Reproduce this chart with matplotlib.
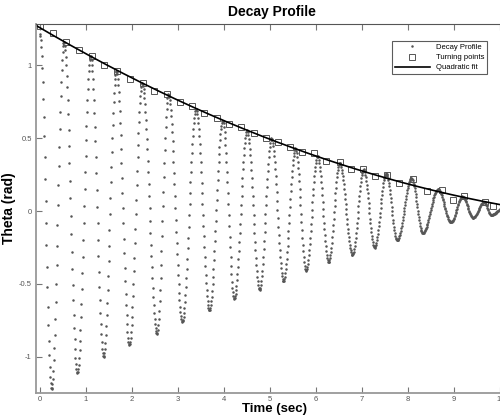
import numpy as np
import matplotlib
matplotlib.use("Agg")
import matplotlib.pyplot as plt

peak_t = [0.0, 0.52, 1.10, 1.66, 2.22, 2.79, 3.39, 3.97, 4.50, 5.03, 5.55,
          6.03, 6.51, 7.03, 7.52, 8.07, 8.65, 9.18, 9.65]
peak_v = [1.21, 1.16, 1.06, 0.96, 0.875, 0.80, 0.70, 0.62, 0.555, 0.50, 0.43,
          0.38, 0.33, 0.286, 0.258, 0.224, 0.149, 0.100, 0.062]
trough_t = [0.25, 0.81, 1.38, 1.94, 2.54, 3.09, 3.68, 4.22, 4.77, 5.29, 5.78,
            6.27, 6.79, 7.27, 7.76, 8.32, 8.93, 9.41, 9.80]
trough_v = [-1.22, -1.11, -1.00, -0.92, -0.84, -0.76, -0.68, -0.60, -0.54, -0.48,
            -0.41, -0.35, -0.30, -0.25, -0.20, -0.15, -0.077, -0.046, -0.027]
end_t, end_v = 10.2, 0.06

# turning points (squares)
turn_t = [0.0, 0.28, 0.57, 0.85, 1.13, 1.40, 1.67, 1.96, 2.23, 2.48, 2.76, 3.04,
          3.31, 3.57, 3.84, 4.10, 4.37, 4.64, 4.91, 5.17, 5.43, 5.70, 5.96, 6.22,
          6.51, 6.76, 7.02, 7.27, 7.54, 7.81, 8.10, 8.41, 8.73, 8.98, 9.22, 9.66, 9.84]
turn_v = [1.265, 1.22, 1.155, 1.10, 1.06, 0.998, 0.96, 0.906, 0.875, 0.824, 0.80, 0.75,
          0.72, 0.673, 0.637, 0.594, 0.573, 0.532, 0.502, 0.47, 0.44, 0.404, 0.395, 0.342,
          0.338, 0.285, 0.29, 0.242, 0.25, 0.19, 0.217, 0.139, 0.144, 0.078, 0.103, 0.06, 0.035]

# trace between the read extrema (half-cosine between each pair), 100 Hz samples
ext_t = np.array(sorted(peak_t + trough_t + [end_t]))
ext_v = np.array([v for _, v in sorted(zip(peak_t + trough_t + [end_t],
                                           peak_v + trough_v + [end_v]))])
t = np.arange(0, 10.2, 0.01)
seg = np.clip(np.searchsorted(ext_t, t, side="right") - 1, 0, len(ext_t) - 2)
s = (t - ext_t[seg]) / (ext_t[seg + 1] - ext_t[seg])
theta = ext_v[seg] + (ext_v[seg + 1] - ext_v[seg]) * (1 - np.cos(np.pi * s)) / 2

coef = np.polyfit(turn_t, turn_v, 2)
xlim = (-0.087, 10.17)
fit_t = np.linspace(xlim[0], xlim[1], 300)

plt.rcParams["font.family"] = ["Liberation Sans", "DejaVu Sans"]
small_font = ["Liberation Sans Narrow", "Liberation Sans", "DejaVu Sans"]

fig = plt.figure(figsize=(5, 4.15), dpi=100)
ax = fig.add_axes([0.072, 0.053, 0.944, 0.889])

ax.plot(t, theta, ".", color="#555555", markersize=1.6, label="Decay Profile")
ax.plot(turn_t, turn_v, "s", markerfacecolor="none", markeredgecolor="#555555",
        markersize=4, markeredgewidth=0.7, label="Turning points")
ax.plot(fit_t, np.polyval(coef, fit_t), color="black", linewidth=1.2, label="Quadratic fit")

ax.set_xlim(*xlim)
ax.set_ylim(-1.247, 1.281)
ax.set_xticks(range(0, 11))
ax.set_yticks([-1, -0.5, 0, 0.5, 1])
ax.set_yticklabels(["-1", "-0.5", "0", "0.5", "1"])
ax.tick_params(direction="in", length=4, width=0.8, colors="#777777",
               labelsize=5.5, labelcolor="#555555", top=True, pad=3)
ax.tick_params(axis="x", pad=2)
for lab in ax.get_xticklabels() + ax.get_yticklabels():
    lab.set_family(small_font)

for side in ["left", "bottom"]:
    ax.spines[side].set_color("#999999")
    ax.spines[side].set_linewidth(1.3)
ax.spines["top"].set_color("#555555")
ax.spines["top"].set_linewidth(0.8)
ax.spines["right"].set_visible(False)

ax.set_title("Decay Profile", fontsize=10, fontweight="bold", pad=6)
ax.set_xlabel("Time (sec)", fontsize=9.5, fontweight="bold")
ax.xaxis.set_label_coords(0.506, -0.028)
ax.set_ylabel("Theta (rad)", fontsize=10, fontweight="bold")
ax.yaxis.set_label_coords(-0.042, 0.5)

leg = ax.legend(loc="upper right", bbox_to_anchor=(0.982, 0.911), bbox_transform=fig.transFigure,
                prop={"family": small_font, "size": 5.5}, fancybox=False,
                edgecolor="#333333", handlelength=4.5, borderpad=0.4, labelspacing=0.35,
                markerscale=1.0)
leg.get_frame().set_linewidth(0.8)

fig.savefig("out.png", dpi=100)
